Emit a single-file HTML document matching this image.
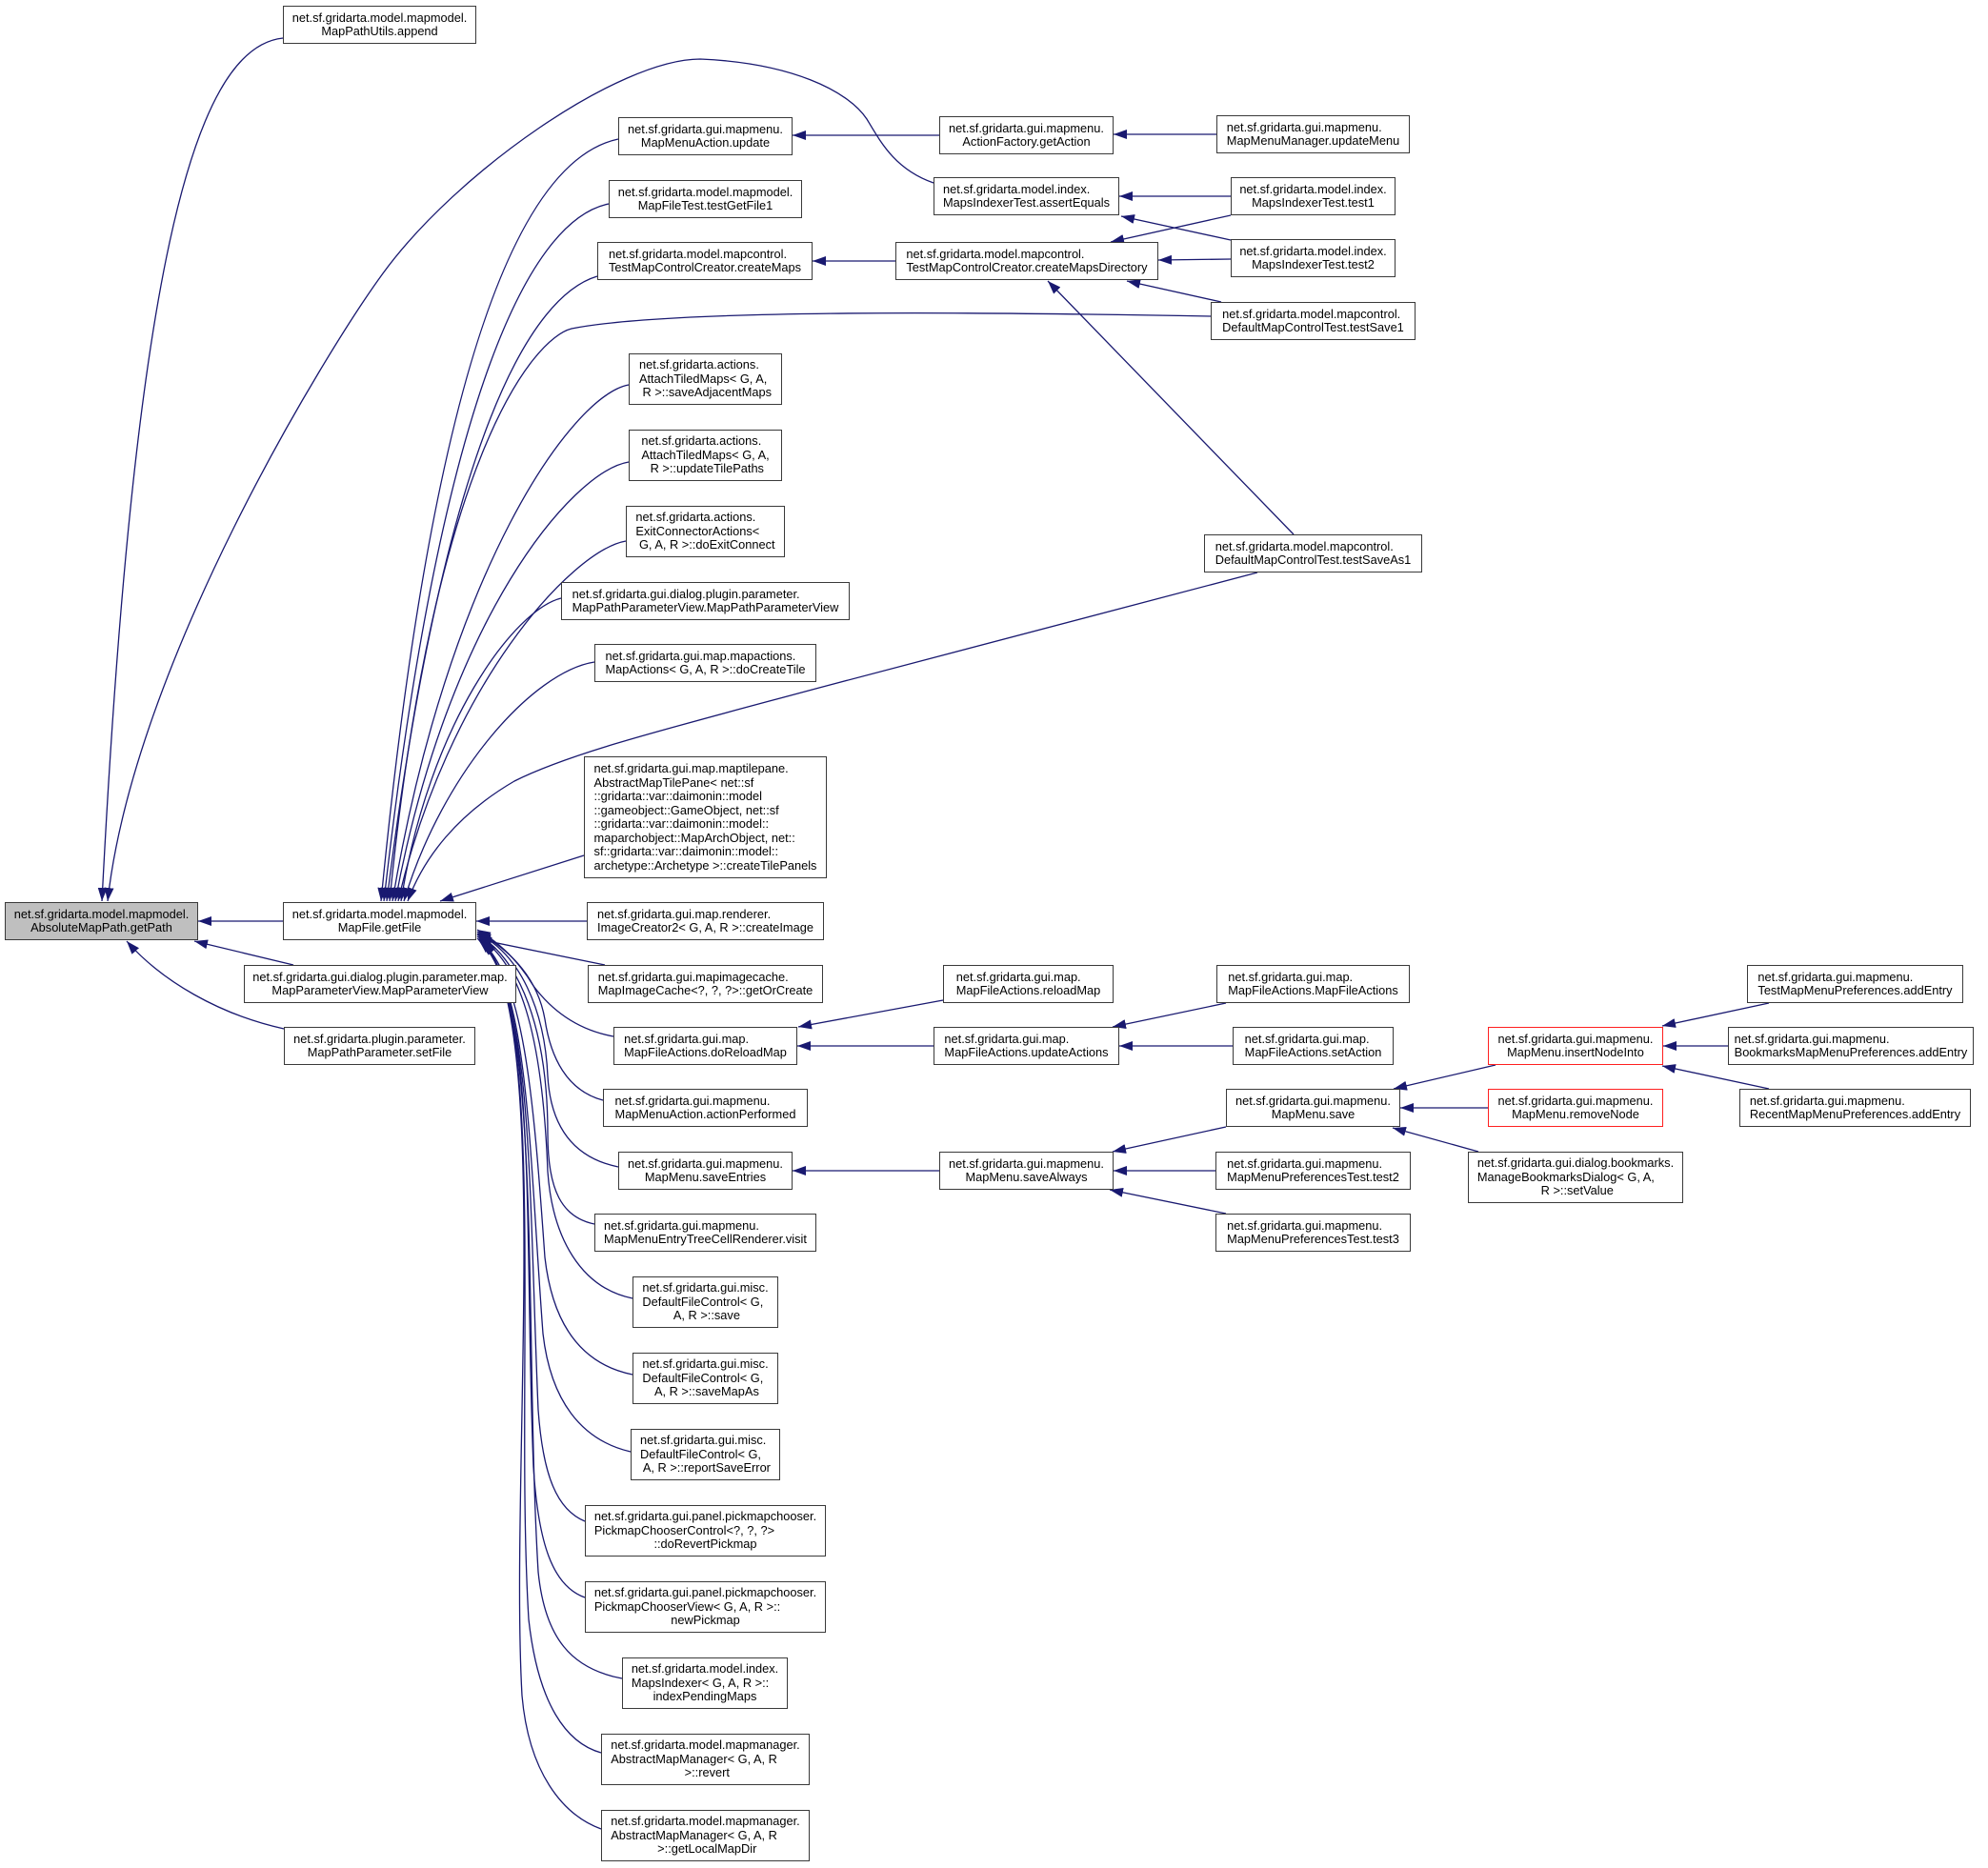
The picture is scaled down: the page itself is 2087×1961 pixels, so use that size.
<!DOCTYPE html>
<html><head><meta charset="utf-8"><style>
html,body{margin:0;padding:0;background:#fff}
body{width:2087px;height:1961px;position:relative;overflow:hidden}
svg{position:absolute;left:0;top:0}
.n{position:absolute;box-sizing:border-box;border:1.3px solid #3a3a3a;background:#fff;display:flex;align-items:center;justify-content:center;font-family:"Liberation Sans",Arial,sans-serif;font-size:12.8px;color:#000}
.n>div{line-height:14.5px;white-space:pre}
.n>div>div{text-align:left}
.n>div>div:last-child{text-align:center}
.g{background:#bfbfbf}
.r{border-color:#ff2020}
</style></head><body>
<svg width="2087" height="1961" viewBox="0 0 2087 1961">
<defs><marker id="a" viewBox="0 0 14 10" refX="14" refY="5" markerWidth="14" markerHeight="10" markerUnits="userSpaceOnUse" orient="auto"><path d="M0,0 L14,5 L0,10 z" fill="#191970"/></marker></defs>
<g fill="none" stroke="#191970" stroke-width="1.3" marker-end="url(#a)">
<path d="M297,40 C200,50 140,300 107,946"/>
<path d="M980,192 C940,178 925,150 910,125 C890,95 830,66 735,62 C650,62 480,180 402,287 C340,372 140,700 113,946"/>
<path d="M297,967 L208,967"/>
<path d="M308,1013 L204,988"/>
<path d="M298,1080 C230,1065 170,1030 133,988"/>
<path d="M649,146 C560,165 460,330 400,946"/>
<path d="M639,214 C560,230 465,400 403,946"/>
<path d="M627,290 C560,310 468,450 406,946"/>
<path d="M1271,332 C1000,327 700,325 600,345 C560,355 455,480 409,946"/>
<path d="M660,404 C600,415 470,600 412,946"/>
<path d="M660,485 C600,495 470,650 415,946"/>
<path d="M657,568 C600,578 470,720 418,946"/>
<path d="M589,628 C540,640 450,760 421,946"/>
<path d="M624,695 C560,705 465,810 424,946"/>
<path d="M1320,601 L860,722 C700,765 600,790 540,820 C480,855 445,900 428,946"/>
<path d="M613,898 L462,946"/>
<path d="M616,967 L500,967"/>
<path d="M635,1013 L502,986"/>
<path d="M644,1088 C600,1080 575,1055 560,1035 C545,1010 525,990 501,976"/>
<path d="M633,1155 C595,1145 578,1110 572,1070 C565,1030 540,1000 501,978"/>
<path d="M649,1225 C600,1215 578,1180 575,1130 C572,1060 545,1000 501,980"/>
<path d="M624,1285 C590,1278 575,1250 575,1190 C575,1080 545,1005 501,981"/>
<path d="M664,1363 C610,1352 580,1300 575,1230 C570,1100 550,1010 501,983"/>
<path d="M664,1443 C610,1432 580,1390 572,1320 C560,1150 550,1020 501,985"/>
<path d="M662,1524 C610,1512 578,1470 570,1400 C555,1200 555,1030 502,986"/>
<path d="M614,1597 C585,1585 570,1550 565,1480 C555,1250 560,1040 503,987"/>
<path d="M614,1677 C580,1665 565,1620 560,1540 C550,1300 565,1040 504,987"/>
<path d="M653,1762 C600,1752 572,1720 565,1650 C550,1400 570,1050 505,988"/>
<path d="M631,1840 C595,1830 565,1790 555,1700 C540,1450 575,1060 506,988"/>
<path d="M631,1920 C590,1905 555,1860 548,1780 C535,1550 580,1070 507,989"/>
<path d="M986,142 L832,142"/>
<path d="M1277,141 L1169,141"/>
<path d="M1292,206 L1175,206"/>
<path d="M1292,252 L1177,227"/>
<path d="M1292,226 L1166,254"/>
<path d="M1292,272 L1216,273"/>
<path d="M1282,317 L1183,295"/>
<path d="M1358,561 L1100,295"/>
<path d="M940,274 L853,274"/>
<path d="M990,1050 L838,1078"/>
<path d="M980,1098 L837,1098"/>
<path d="M1287,1053 L1168,1078"/>
<path d="M1294,1098 L1175,1098"/>
<path d="M986,1229 L832,1229"/>
<path d="M1287,1183 L1168,1209"/>
<path d="M1276,1229 L1169,1229"/>
<path d="M1287,1274 L1165,1249"/>
<path d="M1570,1118 L1463,1143"/>
<path d="M1562,1163 L1470,1163"/>
<path d="M1552,1209 L1462,1184"/>
<path d="M1857,1053 L1745,1077"/>
<path d="M1814,1098 L1746,1098"/>
<path d="M1857,1143 L1745,1119"/>
</g>
</svg>

<div class="n g" style="left:5px;top:947px;width:203px;height:40px"><div><div>net.sf.gridarta.model.mapmodel.</div><div>AbsoluteMapPath.getPath</div></div></div>

<div class="n" style="left:297px;top:6px;width:203px;height:40px"><div><div>net.sf.gridarta.model.mapmodel.</div><div>MapPathUtils.append</div></div></div>
<div class="n" style="left:297px;top:947px;width:203px;height:40px"><div><div>net.sf.gridarta.model.mapmodel.</div><div>MapFile.getFile</div></div></div>
<div class="n" style="left:256px;top:1013px;width:286px;height:40px"><div><div>net.sf.gridarta.gui.dialog.plugin.parameter.map.</div><div>MapParameterView.MapParameterView</div></div></div>
<div class="n" style="left:298px;top:1078px;width:201px;height:40px"><div><div>net.sf.gridarta.plugin.parameter.</div><div>MapPathParameter.setFile</div></div></div>

<div class="n" style="left:649px;top:123px;width:183px;height:40px"><div><div>net.sf.gridarta.gui.mapmenu.</div><div>MapMenuAction.update</div></div></div>
<div class="n" style="left:639px;top:189px;width:203px;height:40px"><div><div>net.sf.gridarta.model.mapmodel.</div><div>MapFileTest.testGetFile1</div></div></div>
<div class="n" style="left:627px;top:254px;width:226px;height:40px"><div><div>net.sf.gridarta.model.mapcontrol.</div><div>TestMapControlCreator.createMaps</div></div></div>
<div class="n" style="left:660px;top:371px;width:161px;height:54px"><div><div>net.sf.gridarta.actions.</div><div>AttachTiledMaps&lt; G, A,</div><div> R &gt;::saveAdjacentMaps</div></div></div>
<div class="n" style="left:660px;top:451px;width:161px;height:54px"><div><div>net.sf.gridarta.actions.</div><div>AttachTiledMaps&lt; G, A,</div><div> R &gt;::updateTilePaths</div></div></div>
<div class="n" style="left:657px;top:531px;width:167px;height:54px"><div><div>net.sf.gridarta.actions.</div><div>ExitConnectorActions&lt;</div><div> G, A, R &gt;::doExitConnect</div></div></div>
<div class="n" style="left:589px;top:611px;width:303px;height:40px"><div><div>net.sf.gridarta.gui.dialog.plugin.parameter.</div><div>MapPathParameterView.MapPathParameterView</div></div></div>
<div class="n" style="left:624px;top:676px;width:233px;height:40px"><div><div>net.sf.gridarta.gui.map.mapactions.</div><div>MapActions&lt; G, A, R &gt;::doCreateTile</div></div></div>
<div class="n" style="left:613px;top:794px;width:255px;height:128px"><div><div>net.sf.gridarta.gui.map.maptilepane.</div><div>AbstractMapTilePane&lt; net::sf</div><div>::gridarta::var::daimonin::model</div><div>::gameobject::GameObject, net::sf</div><div>::gridarta::var::daimonin::model::</div><div>maparchobject::MapArchObject, net::</div><div>sf::gridarta::var::daimonin::model::</div><div>archetype::Archetype &gt;::createTilePanels</div></div></div>
<div class="n" style="left:616px;top:947px;width:249px;height:40px"><div><div>net.sf.gridarta.gui.map.renderer.</div><div>ImageCreator2&lt; G, A, R &gt;::createImage</div></div></div>
<div class="n" style="left:617px;top:1013px;width:247px;height:40px"><div><div>net.sf.gridarta.gui.mapimagecache.</div><div>MapImageCache&lt;?, ?, ?&gt;::getOrCreate</div></div></div>
<div class="n" style="left:644px;top:1078px;width:193px;height:40px"><div><div>net.sf.gridarta.gui.map.</div><div>MapFileActions.doReloadMap</div></div></div>
<div class="n" style="left:633px;top:1143px;width:215px;height:40px"><div><div>net.sf.gridarta.gui.mapmenu.</div><div>MapMenuAction.actionPerformed</div></div></div>
<div class="n" style="left:649px;top:1209px;width:183px;height:40px"><div><div>net.sf.gridarta.gui.mapmenu.</div><div>MapMenu.saveEntries</div></div></div>
<div class="n" style="left:624px;top:1274px;width:233px;height:40px"><div><div>net.sf.gridarta.gui.mapmenu.</div><div>MapMenuEntryTreeCellRenderer.visit</div></div></div>
<div class="n" style="left:664px;top:1340px;width:153px;height:54px"><div><div>net.sf.gridarta.gui.misc.</div><div>DefaultFileControl&lt; G,</div><div> A, R &gt;::save</div></div></div>
<div class="n" style="left:664px;top:1420px;width:153px;height:54px"><div><div>net.sf.gridarta.gui.misc.</div><div>DefaultFileControl&lt; G,</div><div> A, R &gt;::saveMapAs</div></div></div>
<div class="n" style="left:662px;top:1500px;width:157px;height:54px"><div><div>net.sf.gridarta.gui.misc.</div><div>DefaultFileControl&lt; G,</div><div> A, R &gt;::reportSaveError</div></div></div>
<div class="n" style="left:614px;top:1580px;width:253px;height:54px"><div><div>net.sf.gridarta.gui.panel.pickmapchooser.</div><div>PickmapChooserControl&lt;?, ?, ?&gt;</div><div>::doRevertPickmap</div></div></div>
<div class="n" style="left:614px;top:1660px;width:253px;height:54px"><div><div>net.sf.gridarta.gui.panel.pickmapchooser.</div><div>PickmapChooserView&lt; G, A, R &gt;::</div><div>newPickmap</div></div></div>
<div class="n" style="left:653px;top:1740px;width:174px;height:54px"><div><div>net.sf.gridarta.model.index.</div><div>MapsIndexer&lt; G, A, R &gt;::</div><div>indexPendingMaps</div></div></div>
<div class="n" style="left:631px;top:1820px;width:219px;height:54px"><div><div>net.sf.gridarta.model.mapmanager.</div><div>AbstractMapManager&lt; G, A, R</div><div> &gt;::revert</div></div></div>
<div class="n" style="left:631px;top:1900px;width:219px;height:54px"><div><div>net.sf.gridarta.model.mapmanager.</div><div>AbstractMapManager&lt; G, A, R</div><div> &gt;::getLocalMapDir</div></div></div>

<div class="n" style="left:986px;top:122px;width:183px;height:40px"><div><div>net.sf.gridarta.gui.mapmenu.</div><div>ActionFactory.getAction</div></div></div>
<div class="n" style="left:980px;top:186px;width:195px;height:40px"><div><div>net.sf.gridarta.model.index.</div><div>MapsIndexerTest.assertEquals</div></div></div>
<div class="n" style="left:940px;top:254px;width:276px;height:40px"><div><div>net.sf.gridarta.model.mapcontrol.</div><div>TestMapControlCreator.createMapsDirectory</div></div></div>
<div class="n" style="left:990px;top:1013px;width:179px;height:40px"><div><div>net.sf.gridarta.gui.map.</div><div>MapFileActions.reloadMap</div></div></div>
<div class="n" style="left:980px;top:1078px;width:195px;height:40px"><div><div>net.sf.gridarta.gui.map.</div><div>MapFileActions.updateActions</div></div></div>
<div class="n" style="left:986px;top:1209px;width:183px;height:40px"><div><div>net.sf.gridarta.gui.mapmenu.</div><div>MapMenu.saveAlways</div></div></div>

<div class="n" style="left:1277px;top:121px;width:203px;height:40px"><div><div>net.sf.gridarta.gui.mapmenu.</div><div>MapMenuManager.updateMenu</div></div></div>
<div class="n" style="left:1292px;top:186px;width:173px;height:40px"><div><div>net.sf.gridarta.model.index.</div><div>MapsIndexerTest.test1</div></div></div>
<div class="n" style="left:1292px;top:251px;width:173px;height:40px"><div><div>net.sf.gridarta.model.index.</div><div>MapsIndexerTest.test2</div></div></div>
<div class="n" style="left:1271px;top:317px;width:215px;height:40px"><div><div>net.sf.gridarta.model.mapcontrol.</div><div>DefaultMapControlTest.testSave1</div></div></div>
<div class="n" style="left:1264px;top:561px;width:229px;height:40px"><div><div>net.sf.gridarta.model.mapcontrol.</div><div>DefaultMapControlTest.testSaveAs1</div></div></div>
<div class="n" style="left:1277px;top:1013px;width:203px;height:40px"><div><div>net.sf.gridarta.gui.map.</div><div>MapFileActions.MapFileActions</div></div></div>
<div class="n" style="left:1294px;top:1078px;width:169px;height:40px"><div><div>net.sf.gridarta.gui.map.</div><div>MapFileActions.setAction</div></div></div>
<div class="n" style="left:1287px;top:1143px;width:183px;height:40px"><div><div>net.sf.gridarta.gui.mapmenu.</div><div>MapMenu.save</div></div></div>
<div class="n" style="left:1276px;top:1209px;width:205px;height:40px"><div><div>net.sf.gridarta.gui.mapmenu.</div><div>MapMenuPreferencesTest.test2</div></div></div>
<div class="n" style="left:1276px;top:1274px;width:205px;height:40px"><div><div>net.sf.gridarta.gui.mapmenu.</div><div>MapMenuPreferencesTest.test3</div></div></div>

<div class="n r" style="left:1562px;top:1078px;width:184px;height:40px"><div><div>net.sf.gridarta.gui.mapmenu.</div><div>MapMenu.insertNodeInto</div></div></div>
<div class="n r" style="left:1562px;top:1143px;width:184px;height:40px"><div><div>net.sf.gridarta.gui.mapmenu.</div><div>MapMenu.removeNode</div></div></div>
<div class="n" style="left:1541px;top:1209px;width:226px;height:54px"><div><div>net.sf.gridarta.gui.dialog.bookmarks.</div><div>ManageBookmarksDialog&lt; G, A,</div><div> R &gt;::setValue</div></div></div>

<div class="n" style="left:1834px;top:1013px;width:227px;height:40px"><div><div>net.sf.gridarta.gui.mapmenu.</div><div>TestMapMenuPreferences.addEntry</div></div></div>
<div class="n" style="left:1814px;top:1078px;width:258px;height:40px"><div><div>net.sf.gridarta.gui.mapmenu.</div><div>BookmarksMapMenuPreferences.addEntry</div></div></div>
<div class="n" style="left:1826px;top:1143px;width:243px;height:40px"><div><div>net.sf.gridarta.gui.mapmenu.</div><div>RecentMapMenuPreferences.addEntry</div></div></div>
</body></html>
